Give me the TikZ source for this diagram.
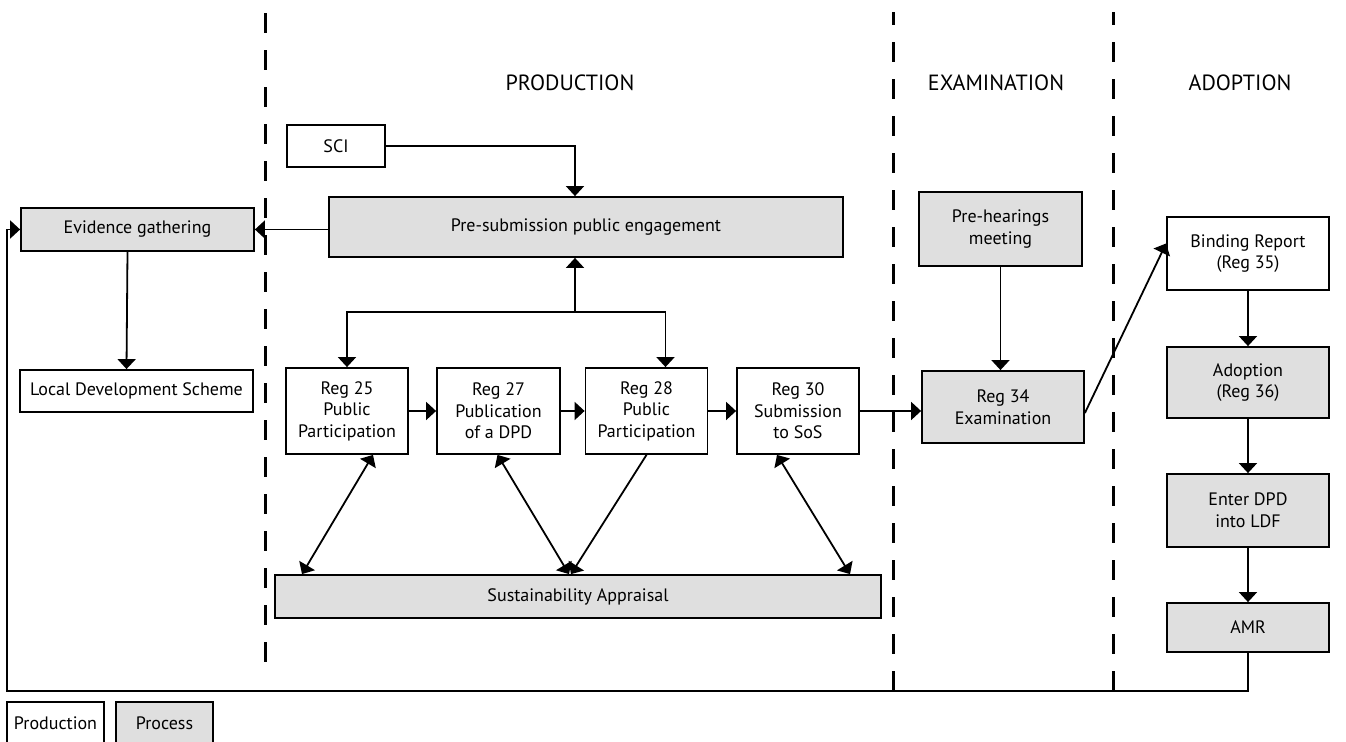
\documentclass[tikz,border=0pt]{standalone}
\usepackage{fontspec}
\setmainfont{PT Sans}
\usetikzlibrary{arrows.meta, calc}
\definecolor{procgray}{RGB}{223,223,223}
\tikzstyle{arrow} = [line width=0.9pt,->,>={Triangle[length=5pt,width=9pt]}]
\tikzstyle{twoway} = [arrow,<->]
\tikzstyle{prodbox} = [draw, line width=0.9pt, fill=white, align=center, inner sep=0pt, font=\fontsize{9}{10.8}\selectfont]
\tikzstyle{procbox} = [prodbox, fill=procgray]
\tikzstyle{divider} = [line width=1.5pt, dash pattern=on 10pt off 8.5pt]
\tikzstyle{stage} = [font=\fontsize{11}{13}\selectfont]

\begin{document}
\begin{tikzpicture}[x=0.5pt, y=-0.5pt]
        \useasboundingbox (0,0) rectangle (1346,742);

        % Stage dividers
        \foreach \xd/\yend in {265/662, 893/691, 1113/691}
            \draw[divider] (\xd,\yend) -- (\xd,12);

        % Stage titles
        \node[stage] (prodtitle) at (570,83) {PRODUCTION};
        \node[stage] (examtitle) at (996,83) {EXAMINATION};
        \node[stage] (adopttitle) at (1240,83) {ADOPTION};

        % Production stage
        \node[prodbox, minimum width=49pt, minimum height=21pt] (sci) at (336,146) {SCI};
        \node[procbox, minimum width=257pt, minimum height=30pt] (pre) at (586,227) {Pre-submission public engagement};
        \node[procbox, minimum width=116.5pt, minimum height=21.5pt] (evid) at (137.5,229.5) {Evidence gathering};
        \node[prodbox, minimum width=116.5pt, minimum height=21pt] (lds) at (136.5,391) {Local Development Scheme};

        % Regulation steps
        \node[prodbox, minimum width=61pt, minimum height=43pt] (reg25) at (347,411) {Reg 25\\Public\\Participation};
        \node[prodbox, minimum width=61.5pt, minimum height=43pt] (reg27) at (498.5,411) {Reg 27\\Publication\\of a DPD};
        \node[prodbox, minimum width=61pt, minimum height=43pt] (reg28) at (646.5,411) {Reg 28\\Public\\Participation};
        \node[prodbox, minimum width=61pt, minimum height=43pt] (reg30) at (798,411) {Reg 30\\Submission\\to SoS};

        % Sustainability appraisal
        \node[procbox, minimum width=303pt, minimum height=21.5pt] (sa) at (578,596.5) {Sustainability Appraisal};

        % Examination stage
        \node[procbox, minimum width=81.5pt, minimum height=37pt] (preh) at (1000.5,229) {Pre-hearings\\meeting};
        \node[procbox, minimum width=81pt, minimum height=36pt] (reg34) at (1003,407) {Reg 34\\Examination};

        % Adoption stage
        \node[prodbox, minimum width=81pt, minimum height=36.5pt] (bind) at (1248,253.5) {Binding Report\\(Reg 35)};
        \node[procbox, minimum width=81pt, minimum height=35.5pt] (adopt) at (1248,382.5) {Adoption\\(Reg 36)};
        \node[procbox, minimum width=81pt, minimum height=36.5pt] (enter) at (1248,510.5) {Enter DPD\\into LDF};
        \node[procbox, minimum width=81pt, minimum height=24.5pt] (amr) at (1248,627.5) {AMR};

        % Key
        \node[prodbox, minimum width=48.5pt, minimum height=21pt] (prodkey) at (55.5,723) {Production};
        \node[procbox, minimum width=48.5pt, minimum height=21pt] (prockey) at (164.5,723) {Process};

        % Connections into and out of pre-submission engagement
        \draw[arrow] (sci.east) -| ($(pre.north)+(-11,0)$);
        \draw[arrow] (pre.west |- evid.east) -- (evid.east);
        \draw[arrow] ($(evid.south)+(-10,0)$) -- ($(lds.north)+(-10,0)$);
        \coordinate (hub) at (575,312);
        \draw[arrow] (hub) -- (hub |- pre.south);
        \draw[arrow] (hub) -| (reg25.north);
        \draw[arrow] (hub) -| ($(reg28.north)+(19,0)$);

        % Regulation sequence
        \draw[arrow] (reg25.east) -- (reg27.west);
        \draw[arrow] (reg27.east) -- (reg28.west);
        \draw[arrow] (reg28.east) -- (reg30.west);
        \draw[arrow] (reg30.east) -- (reg30.east -| reg34.west);

        % Links to sustainability appraisal
        \draw[twoway] ($(reg25.south)+(26,0)$) -- ($(sa.north)+(-276,0)$);
        \draw[twoway] ($(reg27.south)+(-1,0)$) -- ($(sa.north)+(-9,0)$);
        \draw[arrow] (reg28.south) -- ($(sa.north)+(-7,0)$);
        \draw[twoway] ($(reg30.south)+(-21,0)$) -- ($(sa.north)+(272,0)$);

        % Examination
        \draw[arrow] (preh.south) -- (preh.south |- reg34.north);
        \draw[arrow] ($(reg34.east)+(0,6)$) -- ($(bind.west)+(0,-10)$);

        % Adoption
        \draw[arrow] (bind) -- (adopt);
        \draw[arrow] (adopt) -- (enter);
        \draw[arrow] (enter) -- (amr);

        % Monitoring loop back to evidence
        \coordinate (loopbl) at (7,691);
        \draw[arrow] (amr.south) |- (loopbl) |- (evid.west);

\end{tikzpicture}
\end{document}
